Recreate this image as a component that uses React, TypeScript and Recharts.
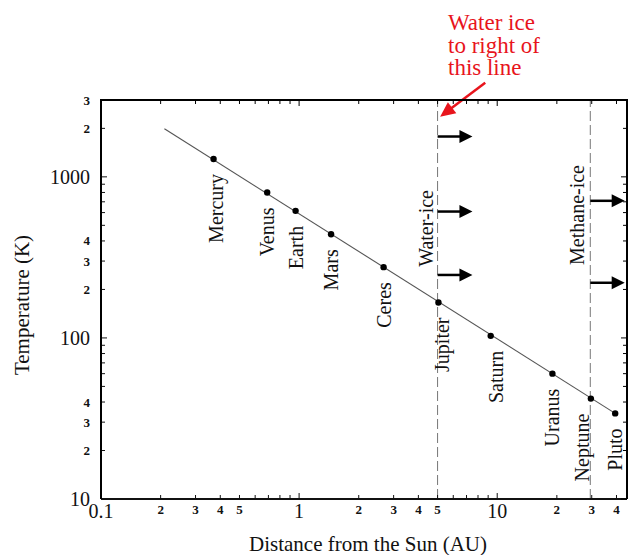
import { ComposedChart, Line, Scatter, XAxis, YAxis, ReferenceLine } from "recharts";

// planets (AU, K)
const planetNames = ["Mercury", "Venus", "Earth", "Mars", "Ceres", "Jupiter", "Saturn", "Uranus", "Neptune", "Pluto"];
const distanceAU = [0.37, 0.69, 0.96, 1.45, 2.67, 5.05, 9.27, 19.0, 29.7, 39.4];
const temperatureK = [1290, 800, 615, 440, 275, 166, 103, 60, 42, 34];

// straight fitted line, its two ends
const fitDistance = [0.209, 39.4];
const fitTemperature = [1990, 34];

// ice lines and the arrows pointing away from them
const iceNames = ["Water-ice", "Methane-ice"];
const iceDistance = [5, 29.5];
const waterArrowK = [1780, 609, 246];
const methaneArrowK = [710, 220];
const waterArrowEnd = 7.5;
const methaneArrowEnd = 44;

// tick values and their printed text ("" = tick mark only)
const xTickValues = [0.1, 0.2, 0.3, 0.4, 0.5, 0.6, 0.7, 0.8, 0.9, 1, 2, 3, 4, 5, 6, 7, 8, 9, 10, 20, 30, 40];
const xTickText = ["0.1", "2", "3", "4", "5", "", "", "", "", "1", "2", "3", "4", "5", "", "", "", "", "10", "2", "3", "4"];
const yTickValues = [10, 20, 30, 40, 50, 60, 70, 80, 90, 100, 200, 300, 400, 500, 600, 700, 800, 900, 1000, 2000, 3000];
const yTickText = ["10", "2", "3", "4", "", "", "", "", "", "100", "2", "3", "4", "", "", "", "", "", "1000", "2", "3"];

const X_MIN = 0.1;
const X_MAX = 45.2;
const Y_MIN = 10;
const Y_MAX = 3000;
const FONT = '"Liberation Serif", "Times New Roman", serif';
const INK = "#111";
const TOP = 100;
const LEFT = 101;
const RIGHT = 627;
const BOTTOM = 499;

const planets = planetNames.map((name, i) => ({ name, x: distanceAU[i], y: temperatureK[i] }));
const fitLine = fitDistance.map((x, i) => ({ x, y: fitTemperature[i] }));

const labelNudge: Record<string, number> = { Mercury: 2, Jupiter: 4, Saturn: 5, Neptune: -9 };
const iceLabelStyle = [{ dx: -12, dy: 90 }, { dx: -13, dy: 65 }];

const isDecade = (v: number) => v === 0.1 || v === 1 || v === 10 || v === 100 || v === 1000;
const tickLen = (v: number) => (isDecade(v) ? 6 : 4);

// same log mapping as the chart's axes, for the mirrored frame ticks
const sx = (v: number) => LEFT + ((RIGHT - LEFT) * Math.log(v / X_MIN)) / Math.log(X_MAX / X_MIN);
const sy = (v: number) => BOTTOM - ((BOTTOM - TOP) * Math.log(v / Y_MIN)) / Math.log(Y_MAX / Y_MIN);

function XTick(props: any) {
  const { x, payload } = props;
  const y = BOTTOM;
  const v = payload.value;
  const text = xTickText[xTickValues.indexOf(v)];
  const big = text === "0.1" || text === "1" || text === "10";
  return (
    <g>
      <line x1={x} y1={y} x2={x} y2={y - tickLen(v)} stroke={INK} strokeWidth={1} />
      {text && (
        <text x={x} y={big ? y + 12 : y + 10} textAnchor="middle" dominantBaseline="central"
          fontFamily={FONT} fontSize={big ? 20 : 13} fontWeight={big ? 400 : 700} fill={INK}>
          {text}
        </text>
      )}
    </g>
  );
}

function YTick(props: any) {
  const { y, payload } = props;
  const x = LEFT;
  const v = payload.value;
  const text = yTickText[yTickValues.indexOf(v)];
  const big = text.length > 1;
  return (
    <g>
      <line x1={x} y1={y} x2={x + tickLen(v)} y2={y} stroke={INK} strokeWidth={1} />
      {text && (
        <text x={x - 11} y={y} textAnchor="end" dominantBaseline="central"
          fontFamily={FONT} fontSize={big ? 20 : 13} fontWeight={big ? 400 : 700} fill={INK}>
          {text}
        </text>
      )}
    </g>
  );
}

function PlanetDot(props: any) {
  const { cx, cy, payload } = props;
  const lx = cx + (labelNudge[payload.name] ?? 0);
  const ly = cy + 15;
  return (
    <g>
      <circle cx={cx} cy={cy} r={3.2} fill="#000" />
      <text x={lx} y={ly} transform={`rotate(-90 ${lx} ${ly})`} textAnchor="end" dominantBaseline="central"
        fontFamily={FONT} fontSize={20} fill={INK}>
        {payload.name}
      </text>
    </g>
  );
}

function arrowShape(color: string, width: number, headLen: number, headHalf: number) {
  return (p: any) => {
    const { x1, y1, x2, y2 } = p;
    const dx = x2 - x1;
    const dy = y2 - y1;
    const L = Math.hypot(dx, dy) || 1;
    const ux = dx / L;
    const uy = dy / L;
    const bx = x2 - ux * headLen;
    const by = y2 - uy * headLen;
    const px = -uy * headHalf;
    const py = ux * headHalf;
    return (
      <g>
        <line x1={x1} y1={y1} x2={bx + ux} y2={by + uy} stroke={color} strokeWidth={width} />
        <polygon points={`${x2},${y2} ${bx + px},${by + py} ${bx - px},${by - py}`} fill={color} />
      </g>
    );
  };
}

const blackArrow = arrowShape("#000", 2.5, 13, 6.5);
const redArrow = arrowShape("#e8141c", 2.5, 15, 7);

export default function App() {
  return (
    <div style={{ position: "absolute", left: 0, top: 0, width: 629, height: 555, background: "#fff" }}>
      <ComposedChart width={629} height={555} margin={{ top: TOP, right: 629 - RIGHT, bottom: 0, left: 0 }}>
        <XAxis dataKey="x" type="number" scale="log" domain={[X_MIN, X_MAX]} allowDataOverflow
          ticks={xTickValues} interval={0} height={555 - BOTTOM} tickSize={0} tickMargin={0} tickLine={false}
          axisLine={{ stroke: INK, strokeWidth: 2 }} tick={(p: any) => <XTick {...p} />} />
        <YAxis dataKey="y" type="number" scale="log" domain={[Y_MIN, Y_MAX]} allowDataOverflow
          ticks={yTickValues} interval={0} width={LEFT} tickSize={0} tickMargin={0} tickLine={false}
          axisLine={{ stroke: INK, strokeWidth: 2 }} tick={(p: any) => <YTick {...p} />} />

        {iceDistance.map((d, i) => (
          <ReferenceLine key={iceNames[i]} x={d} stroke="#777" strokeWidth={1} strokeDasharray="10 4"
            label={(lp: any) => {
              const vb = lp.viewBox;
              const lx = vb.x + iceLabelStyle[i].dx;
              const ly = vb.y + iceLabelStyle[i].dy;
              return (
                <text x={lx} y={ly} transform={`rotate(-90 ${lx} ${ly})`} textAnchor="end"
                  dominantBaseline="central" fontFamily={FONT} fontSize={20} fill={INK}>
                  {iceNames[i]}
                </text>
              );
            }} />
        ))}

        {waterArrowK.map((t) => (
          <ReferenceLine key={"w" + t} segment={[{ x: iceDistance[0], y: t }, { x: waterArrowEnd, y: t }]}
            shape={blackArrow} />
        ))}
        {methaneArrowK.map((t) => (
          <ReferenceLine key={"m" + t} segment={[{ x: iceDistance[1], y: t }, { x: methaneArrowEnd, y: t }]}
            shape={blackArrow} />
        ))}
        <ReferenceLine segment={[{ x: 8.7, y: 3840 }, { x: 5.15, y: 2360 }]} ifOverflow="visible" shape={redArrow} />

        <Line data={fitLine} dataKey="y" type="linear" stroke="#555" strokeWidth={1.1} dot={false}
          isAnimationActive={false} />
        <Scatter data={planets} dataKey="y" shape={(p: any) => <PlanetDot {...p} />} isAnimationActive={false} />
      </ComposedChart>

      <svg width={629} height={555}
        style={{ position: "absolute", left: 0, top: 0, pointerEvents: "none", zIndex: 5, overflow: "visible" }}>
        {/* plot frame with inward ticks on top and right */}
        <path d={`M${LEFT},${BOTTOM} L${LEFT},${TOP} L${RIGHT},${TOP} L${RIGHT},${BOTTOM}`}
          fill="none" stroke="#000" strokeWidth={2} />
        {xTickValues.map((v) => (
          <line key={"t" + v} x1={sx(v)} y1={TOP} x2={sx(v)} y2={TOP + tickLen(v)} stroke="#000" strokeWidth={1} />
        ))}
        {yTickValues.map((v) => (
          <line key={"r" + v} x1={RIGHT} y1={sy(v)} x2={RIGHT - tickLen(v)} y2={sy(v)} stroke="#000" strokeWidth={1} />
        ))}

        <text x={22} y={305} transform="rotate(-90 22 305)" textAnchor="middle" dominantBaseline="central"
          fontFamily={FONT} fontSize={21} fill={INK}>Temperature (K)</text>
        <text x={368} y={551} textAnchor="middle" fontFamily={FONT} fontSize={21} fill={INK}>
          Distance from the Sun (AU)
        </text>
        <g fontFamily={FONT} fontSize={23} fill="#e8141c">
          <text x={448} y={30}>Water ice</text>
          <text x={448} y={52.5}>to right of</text>
          <text x={448} y={75}>this line</text>
        </g>
      </svg>
    </div>
  );
}
